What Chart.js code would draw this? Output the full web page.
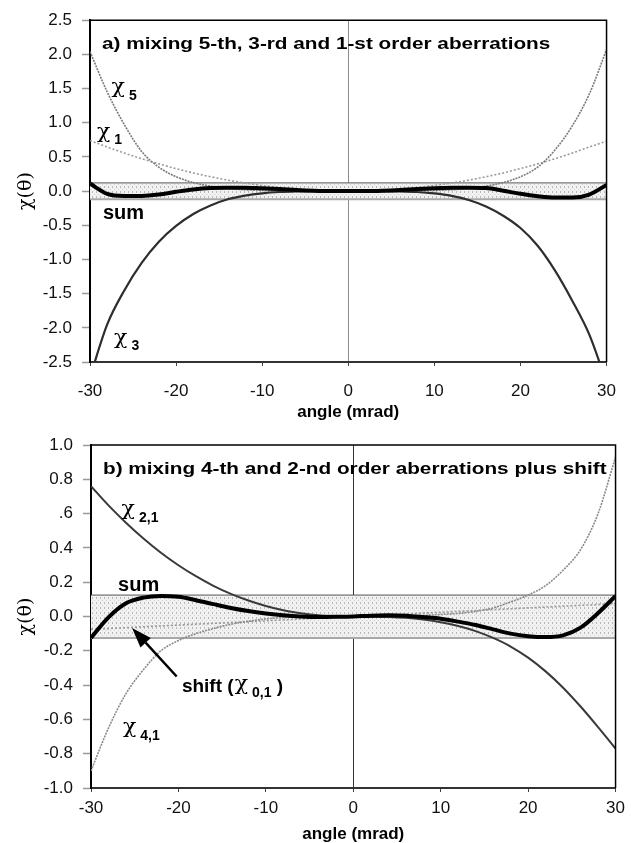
<!DOCTYPE html>
<html>
<head>
<meta charset="utf-8">
<script src="https://cdn.jsdelivr.net/npm/chart.js@4.4.0/dist/chart.umd.min.js"></script>
<style>
    body{margin:0;background:#fff;}
    #wrap{position:relative;width:631px;height:843px;}
    #chartA{position:absolute;left:0;top:0;}
    #chartB{position:absolute;left:0;top:421px;}
</style>
</head>
<body>
<div id="wrap">
    <canvas id="chartA" width="631" height="421"></canvas>
    <canvas id="chartB" width="631" height="422"></canvas>
</div>
<script>
// angle (mrad), shared by every curve
const angles=[-30,-28,-26,-24,-22,-20,-18,-16,-14,-12,-10,-8,-6,-4,-2,0,2,4,6,8,10,12,14,16,18,20,22,24,26,28,30];
const xLabels=["-30","-20","-10","0","10","20","30"];

// a) 5-th, 3-rd and 1-st order
const chi5A=[2.04,1.45,0.97,0.58,0.35,0.21,0.125,0.072,0.04,0.02,0.01,0.004,0.001,0,0,0,0,0,0.001,0.004,0.01,0.02,0.04,0.072,0.125,0.21,0.35,0.6,0.95,1.42,2.07];
const chi1A=[0.74,0.645,0.556,0.474,0.398,0.329,0.266,0.21,0.161,0.118,0.082,0.053,0.03,0.013,0.003,0,0.003,0.013,0.03,0.053,0.082,0.118,0.161,0.21,0.266,0.329,0.398,0.474,0.556,0.645,0.73];
const chi3A=[-2.72,-1.95,-1.45,-1.05,-0.74,-0.51,-0.335,-0.21,-0.12,-0.066,-0.032,-0.013,-0.004,-0.001,0,0,0,-0.001,-0.004,-0.013,-0.034,-0.07,-0.13,-0.225,-0.36,-0.54,-0.8,-1.16,-1.6,-2.1,-2.8];
const sumA=[0.11,-0.04,-0.07,-0.07,-0.05,-0.01,0.025,0.045,0.05,0.05,0.04,0.03,0.015,0.005,0,0,0,0.005,0.015,0.03,0.04,0.05,0.05,0.045,0.005,-0.04,-0.075,-0.095,-0.095,-0.05,0.09];
const bandA=0.12;
const yLabelsA=["-2.5","-2.0","-1.5","-1.0","-0.5","0.0","0.5","1.0","1.5","2.0","2.5"];

// b) 4-th and 2-nd order plus shift
const chi21B=[0.76,0.648,0.547,0.455,0.372,0.299,0.235,0.179,0.132,0.093,0.061,0.036,0.019,0.007,0.002,0,-0.001,-0.003,-0.008,-0.018,-0.033,-0.055,-0.085,-0.125,-0.175,-0.24,-0.32,-0.415,-0.525,-0.645,-0.77];
const chi41B=[-0.9,-0.65,-0.45,-0.31,-0.2,-0.14,-0.1,-0.07,-0.045,-0.028,-0.014,-0.006,-0.002,0,0,0,0,0,0.002,0.006,0.012,0.018,0.03,0.05,0.085,0.125,0.18,0.27,0.39,0.6,0.93];
const sumB=[-0.125,-0.005,0.077,0.11,0.12,0.115,0.095,0.072,0.05,0.032,0.018,0.007,0,-0.003,-0.002,0,0.005,0.007,0.005,-0.003,-0.013,-0.03,-0.05,-0.075,-0.1,-0.115,-0.12,-0.11,-0.065,0.02,0.12];
const shiftAngles=[-30,30];
const shiftB=[-0.075,0.075];
const bandB=0.125;
const yLabelsB=["-1.0","-0.8","-0.6","-0.4","-0.2","0.0","0.2","0.4",".6","0.8","1.0"];

const sans="'Liberation Sans', Arial, sans-serif";
const greek="'DejaVu Serif', serif";
Chart.defaults.font.family=sans;
Chart.defaults.color="#111";

function toPoints(xs, ys)
{
    return xs.map(function (x, i) { return {x: x, y: ys[i]}; });
}

function makeDots(canvasId)
{
    let c=document.createElement("canvas");
    c.width=4;
    c.height=5;
    let g=c.getContext("2d");
    g.fillStyle="#f1f1f1";
    g.fillRect(0,0,4,5);
    g.fillStyle="#b8b8b8";
    g.fillRect(0,1,1,2);
    g.fillStyle="#d2d2d2";
    g.fillRect(2,4,1,1);
    return document.getElementById(canvasId).getContext("2d").createPattern(c,"repeat");
}

function curve(ys, color, width, dash, order)
{
    return {
        data: toPoints(angles, ys),
        borderColor: color,
        borderWidth: width,
        borderDash: dash,
        pointRadius: 0,
        cubicInterpolationMode: "monotone",
        fill: false,
        order: order
    };
}

function band(value, pattern)
{
    return [
        {data: toPoints([-30,30],[value,value]), borderColor:"#555", borderWidth:1, pointRadius:0, fill:"+1", backgroundColor:pattern, order:20},
        {data: toPoints([-30,30],[-value,-value]), borderColor:"#a8a8a8", borderWidth:2, pointRadius:0, fill:false, order:19}
    ];
}

function drawParts(ctx, x, y, parts)
{
    let cx=x;
    for(let p of parts)
    {
        let sx=p.sx||1;
        ctx.save();
        ctx.font=p.font;
        ctx.fillStyle="#000";
        ctx.textAlign="left";
        ctx.textBaseline="middle";
        ctx.translate(cx, y+(p.dy||0));
        ctx.scale(sx,1);
        ctx.fillText(p.text,0,0);
        let w=ctx.measureText(p.text).width*sx;
        ctx.restore();
        cx+=w+(p.gap||0);
    }
}

function chi(sub)
{
    return [
        {text:"\u03c7", font:"21px "+greek, sx:1.05, gap:4, dy:-2},
        {text:sub, font:"bold 14px "+sans, dy:6}
    ];
}

const notesPlugin={
    id:"notes",
    afterDatasetsDraw(chart, args, opts)
    {
        let ctx=chart.ctx;
        let a=chart.chartArea;
        let xs=chart.scales.x;
        let ys=chart.scales.y;
        // top and right side of the frame
        ctx.save();
        ctx.strokeStyle="#000";
        ctx.lineWidth=1.5;
        ctx.beginPath();
        ctx.moveTo(a.left,a.top);
        ctx.lineTo(a.right,a.top);
        ctx.lineTo(a.right,a.bottom);
        ctx.stroke();
        ctx.restore();

        drawParts(ctx, a.left+12, a.top+24, [{text:opts.title, font:"bold 17px "+sans, sx:1.22}]);
        for(let l of opts.labels)
        {
            drawParts(ctx, xs.getPixelForValue(l.x), ys.getPixelForValue(l.y), l.parts);
        }
        if(opts.arrow)
        {
            let x1=xs.getPixelForValue(opts.arrow.from[0]), y1=ys.getPixelForValue(opts.arrow.from[1]);
            let x2=xs.getPixelForValue(opts.arrow.to[0]), y2=ys.getPixelForValue(opts.arrow.to[1]);
            let ang=Math.atan2(y2-y1, x2-x1);
            let len=20, half=7;
            let bx=x2-len*Math.cos(ang), by=y2-len*Math.sin(ang);
            ctx.save();
            ctx.strokeStyle="#000";
            ctx.fillStyle="#000";
            ctx.lineWidth=2.5;
            ctx.beginPath();
            ctx.moveTo(x1,y1);
            ctx.lineTo(bx,by);
            ctx.stroke();
            ctx.beginPath();
            ctx.moveTo(x2,y2);
            ctx.lineTo(bx+half*Math.sin(ang), by-half*Math.cos(ang));
            ctx.lineTo(bx-half*Math.sin(ang), by+half*Math.cos(ang));
            ctx.closePath();
            ctx.fill();
            ctx.restore();
        }
    }
};

function makeScales(yMin, yMax, yStep, yLabels, zeroColor, yWidth, xHeight, xPad)
{
    return {
        x: {
            type: "linear",
            min: -30,
            max: 30,
            afterFit: function (scale) { scale.height=xHeight; },
            ticks: {
                stepSize: 10,
                padding: xPad,
                font: {size: 17},
                color: "#111",
                callback: function (value, index) { return xLabels[index]; }
            },
            grid: {
                color: function (c) { return c.tick && c.tick.value===0 ? zeroColor : "rgba(0,0,0,0)"; },
                lineWidth: 1,
                tickLength: 4,
                tickColor: "#444",
                tickWidth: 1
            },
            border: {color: "#333", width: 2},
            title: {display: true, text: "angle (mrad)", font: {size: 17, weight: "bold", lineHeight: 1}, padding: 0, color: "#000"}
        },
        y: {
            type: "linear",
            min: yMin,
            max: yMax,
            afterFit: function (scale) { scale.width=yWidth; },
            ticks: {
                stepSize: yStep,
                padding: 10,
                autoSkip: false,
                font: {size: 17},
                color: "#111",
                callback: function (value, index) { return yLabels[index]; }
            },
            grid: {
                color: function (c) { return c.tick && Math.abs(c.tick.value)<1e-9 ? zeroColor : "rgba(0,0,0,0)"; },
                lineWidth: 1,
                tickLength: 8,
                tickColor: "#9a9a9a",
                tickWidth: 1.5
            },
            border: {color: "#000", width: 2},
            title: {display: true, text: "\u03c7(\u03b8)", font: {family: greek, size: 19, lineHeight: 1}, padding: {top: 17, bottom: 0}, color: "#000"}
        }
    };
}

let dotsA=makeDots("chartA");
let chartA=new Chart(document.getElementById("chartA"), {
    type: "line",
    data: {
        datasets: [
            curve(sumA, "#000", 4, [], 0),
            curve(chi3A, "#2e2e2e", 2.2, [], 1),
            curve(chi5A, "#7a7a7a", 1.6, [2,1], 2),
            curve(chi1A, "#9a9a9a", 1.6, [2,2], 3)
        ].concat(band(bandA, dotsA))
    },
    options: {
        responsive: false,
        animation: false,
        layout: {padding: {top: 18, right: 14, left: 0, bottom: 0}},
        scales: makeScales(-2.5, 2.5, 0.5, yLabelsA, "#8c8c8c", 90, 59, 15),
        plugins: {
            legend: {display: false},
            tooltip: {enabled: false},
            notes: {
                title: "a) mixing 5-th, 3-rd and 1-st order aberrations",
                labels: [
                    {x: -27.5, y: 1.48, parts: chi("5")},
                    {x: -29.2, y: 0.83, parts: chi("1")},
                    {x: -28.5, y: -0.33, parts: [{text:"sum", font:"bold 20px "+sans}]},
                    {x: -27.2, y: -2.18, parts: chi("3")}
                ]
            }
        }
    },
    plugins: [notesPlugin]
});

let dotsB=makeDots("chartB");
let chartB=new Chart(document.getElementById("chartB"), {
    type: "line",
    data: {
        datasets: [
            curve(sumB, "#000", 4, [], 0),
            curve(chi21B, "#3a3a3a", 2, [], 1),
            curve(chi41B, "#8a8a8a", 1.6, [2,1], 2),
            {data: toPoints(shiftAngles, shiftB), borderColor:"#9a9a9a", borderWidth:1.6, borderDash:[2,2], pointRadius:0, fill:false, order:3}
        ].concat(band(bandB, dotsB))
    },
    options: {
        responsive: false,
        animation: false,
        layout: {padding: {top: 24, right: 14, left: 0, bottom: 0}},
        scales: makeScales(-1, 1, 0.2, yLabelsB, "#333", 91, 55, 6),
        plugins: {
            legend: {display: false},
            tooltip: {enabled: false},
            notes: {
                title: "b) mixing 4-th and 2-nd order aberrations plus shift",
                labels: [
                    {x: -26.5, y: 0.61, parts: chi("2,1")},
                    {x: -26.9, y: 0.18, parts: [{text:"sum", font:"bold 20px "+sans}]},
                    {x: -19.6, y: -0.41, parts: [{text:"shift (", font:"bold 19px "+sans, gap:1}].concat(chi("0,1")).concat([{text:" )", font:"bold 19px "+sans}])},
                    {x: -26.35, y: -0.66, parts: chi("4,1")}
                ],
                arrow: {from: [-20.2, -0.35], to: [-25.3, -0.067]}
            }
        }
    },
    plugins: [notesPlugin]
});
</script>
</body>
</html>
